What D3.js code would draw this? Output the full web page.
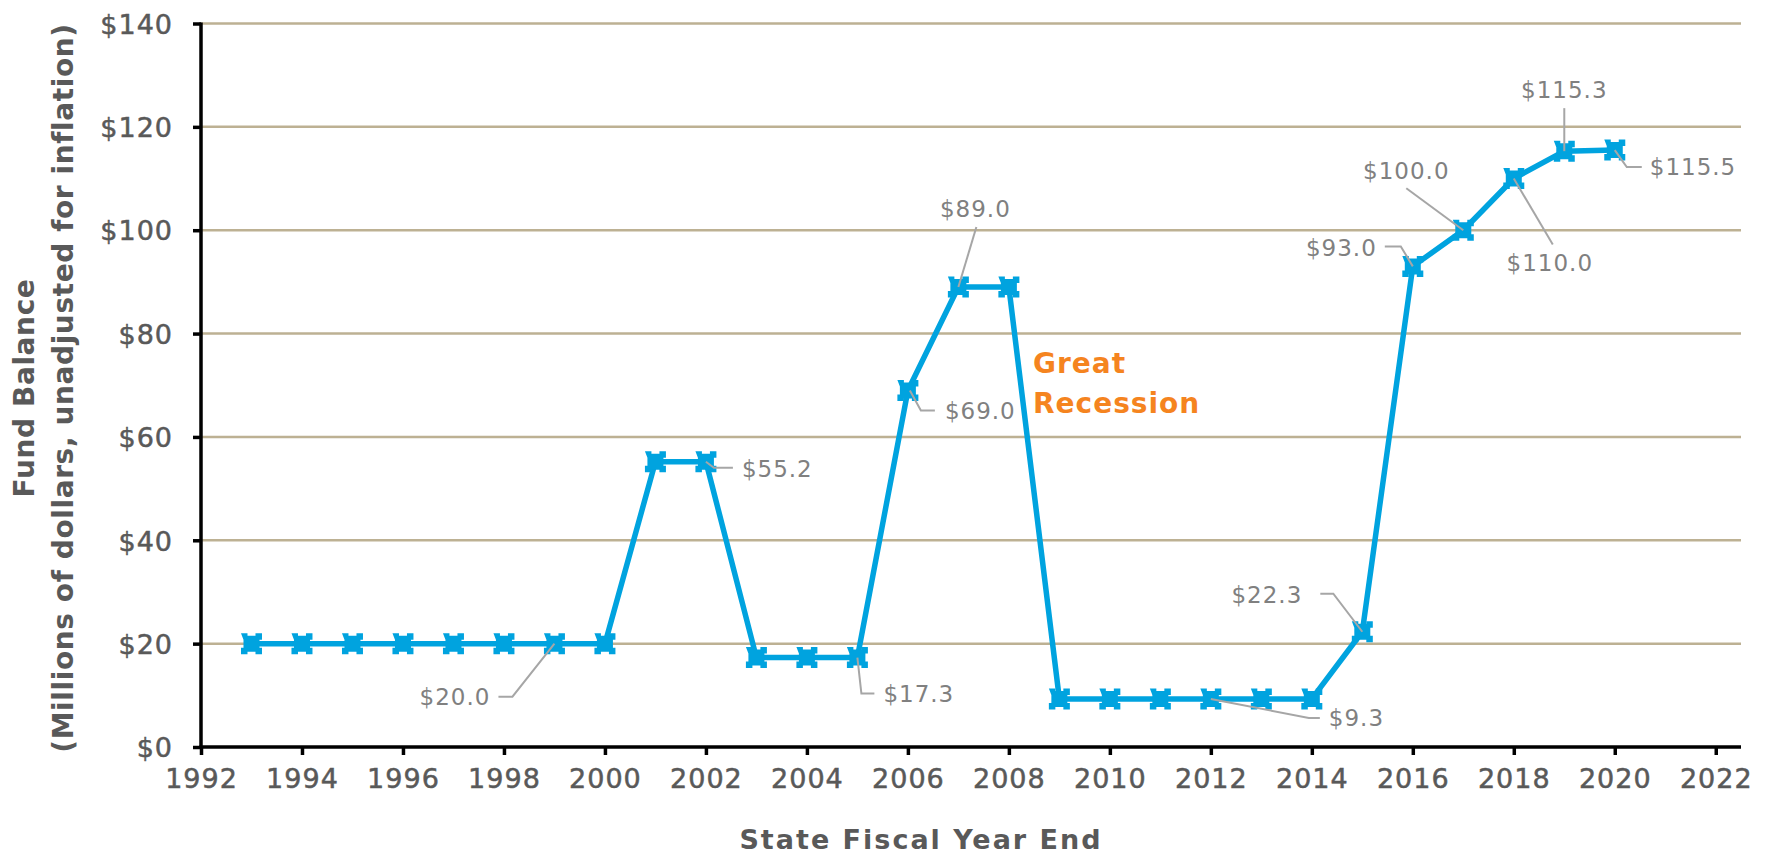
<!DOCTYPE html>
<html>
<head>
<meta charset="utf-8">
<script src="https://cdn.jsdelivr.net/npm/d3@7"></script>
<style>
  html, body { margin: 0; padding: 0; background: #ffffff; }
  svg { display: block; }
  text { font-family: "DejaVu Sans", "Noto Sans", sans-serif; }
</style>
</head>
<body>
<svg id="chart" width="1769" height="858"></svg>
<script>
// Fund balance by state fiscal year end (millions of dollars, nominal)
const years = [1993, 1994, 1995, 1996, 1997, 1998, 1999, 2000, 2001, 2002,
               2003, 2004, 2005, 2006, 2007, 2008, 2009, 2010, 2011, 2012,
               2013, 2014, 2015, 2016, 2017, 2018, 2019, 2020];
const balances = [20.0, 20.0, 20.0, 20.0, 20.0, 20.0, 20.0, 20.0, 55.2, 55.2,
                  17.3, 17.3, 17.3, 69.0, 89.0, 89.0, 9.3, 9.3, 9.3, 9.3,
                  9.3, 9.3, 22.3, 93.0, 100.0, 110.0, 115.3, 115.5];

// Axis ticks
const xTicks = [1992, 1994, 1996, 1998, 2000, 2002, 2004, 2006, 2008, 2010,
                2012, 2014, 2016, 2018, 2020, 2022];
const yTicks = [0, 20, 40, 60, 80, 100, 120, 140];

// Years that carry a value callout
const calloutYears = [1999, 2002, 2005, 2006, 2007, 2012, 2015, 2016, 2017, 2018, 2019, 2020];

// Titles and annotation
const xTitle = "State Fiscal Year End";
const yTitleLines = ["Fund Balance", "(Millions of dollars, unadjusted for inflation)"];
const noteLines = ["Great", "Recession"];

// ---- layout ----
const W = 1769, H = 858;
const plot = { left: 201, right: 1741, top: 23.5, bottom: 747 };

const COLORS = {
  line: "#00A3DF",
  grid: "#BDB193",
  axis: "#000000",
  tick: "#595959",
  callout: "#808080",
  leader: "#A6A6A6",
  note: "#F5841F"
};

const svg = d3.select("#chart");

const x = d3.scaleLinear().domain([1992, 2022.5]).range([plot.left, plot.right]);
const y = d3.scaleLinear().domain([0, 140]).range([plot.bottom, plot.top]);

const data = years.map((yr, i) => ({ year: yr, value: balances[i] }));

// Horizontal gridlines
svg.append("g")
  .selectAll("line")
  .data(yTicks.filter(t => t > 0))
  .join("line")
  .attr("x1", plot.left).attr("x2", plot.right)
  .attr("y1", d => y(d)).attr("y2", d => y(d))
  .attr("stroke", COLORS.grid)
  .attr("stroke-width", 2.5);

// Tick label styling shared by both axes
function styleTickText(sel) {
  sel.attr("fill", COLORS.tick)
    .attr("stroke", COLORS.tick)
    .attr("stroke-width", 0.5)
    .style("font-size", "27px")
    .style("letter-spacing", "1px");
}

// Y axis
const yAxis = svg.append("g")
  .attr("transform", `translate(${plot.left},0)`)
  .call(d3.axisLeft(y).tickValues(yTicks).tickSize(8).tickPadding(20)
    .tickFormat(d => "$" + d));
yAxis.select(".domain").attr("stroke", COLORS.axis).attr("stroke-width", 3.5)
  .attr("d", `M0,${plot.top - 1}V${plot.bottom + 1.5}`);
yAxis.selectAll(".tick line").attr("stroke", COLORS.axis).attr("stroke-width", 3.5);
yAxis.selectAll(".tick text").call(styleTickText).attr("dy", "0.36em");

// X axis
const xAxis = svg.append("g")
  .attr("transform", `translate(0,${plot.bottom})`)
  .call(d3.axisBottom(x).tickValues(xTicks).tickSize(8).tickPadding(14)
    .tickFormat(d3.format("d")));
xAxis.select(".domain").attr("stroke", COLORS.axis).attr("stroke-width", 3.5)
  .attr("d", `M${plot.left - 1.5},0H${plot.right}`);
xAxis.selectAll(".tick line").attr("stroke", COLORS.axis).attr("stroke-width", 3.5);
xAxis.selectAll(".tick text").call(styleTickText);

// Axis titles
svg.append("text")
  .attr("x", 921).attr("y", 849)
  .attr("text-anchor", "middle")
  .attr("fill", COLORS.tick)
  .style("font-size", "27px").style("font-weight", "bold")
  .style("letter-spacing", "2px")
  .text(xTitle);

const yTitle = svg.append("text")
  .attr("transform", `translate(34,388) rotate(-90)`)
  .attr("text-anchor", "middle")
  .attr("fill", COLORS.tick)
  .style("font-size", "28px").style("font-weight", "bold")
  .style("letter-spacing", "0.6px");
yTitle.selectAll("tspan")
  .data(yTitleLines)
  .join("tspan")
  .attr("x", 0)
  .attr("y", (d, i) => i * 39)
  .text(d => d);

// Series line
svg.append("path")
  .datum(data)
  .attr("fill", "none")
  .attr("stroke", COLORS.line)
  .attr("stroke-width", 5.5)
  .attr("stroke-linejoin", "round")
  .attr("d", d3.line().x(d => x(d.year)).y(d => y(d.value)));

// Markers: square with notched edges
function markerPath(s, n, dpt) {
  return `M${-s},${-s}H${-n}V${-s + dpt}H${n}V${-s}H${s}V${-n}H${s - dpt}V${n}H${s}V${s}` +
         `H${n}V${s - dpt}H${-n}V${s}H${-s}V${n}H${-s + dpt}V${-n}Z`;
}
svg.append("g")
  .selectAll("path")
  .data(data)
  .join("path")
  .attr("transform", d => `translate(${x(d.year)},${y(d.value)})`)
  .attr("d", markerPath(10.5, 4, 2.5))
  .attr("fill", COLORS.line);

// Callout placement relative to each marker: leader polyline and label anchor
const calloutLayout = {
  1999: { leader: [[0, 0], [-42, 53], [-56, 53]], label: [-64, 53], anchor: "end" },
  2002: { leader: [[0, 0], [8, 6], [27, 6]], label: [36, 7], anchor: "start" },
  2005: { leader: [[0, 0], [4, 36], [17, 36]], label: [26, 36], anchor: "start" },
  2006: { leader: [[2, 0], [13, 20], [27, 20]], label: [37, 20], anchor: "start" },
  2007: { leader: [[0, 0], [18, -60]], label: [17, -78], anchor: "middle" },
  2012: { leader: [[0, 0], [98, 19], [109, 19]], label: [118, 19], anchor: "start" },
  2015: { leader: [[0, 0], [-29, -38], [-42, -38]], label: [-60, -37], anchor: "end" },
  2016: { leader: [[0, 0], [-12, -20], [-28, -20]], label: [-36, -19], anchor: "end" },
  2017: { leader: [[0, 0], [-57, -42]], label: [-57, -59], anchor: "middle" },
  2018: { leader: [[0, 0], [39, 66]], label: [36, 84], anchor: "middle" },
  2019: { leader: [[0, 0], [0, -43]], label: [0, -61], anchor: "middle" },
  2020: { leader: [[0, 0], [12, 17], [27, 17]], label: [35, 17], anchor: "start" }
};

const callouts = data.filter(d => calloutYears.includes(d.year));

const cg = svg.append("g");
cg.selectAll("path")
  .data(callouts)
  .join("path")
  .attr("fill", "none")
  .attr("stroke", COLORS.leader)
  .attr("stroke-width", 2)
  .attr("d", d => {
    const px = x(d.year), py = y(d.value);
    return d3.line()(calloutLayout[d.year].leader.map(p => [px + p[0], py + p[1]]));
  });

cg.selectAll("text")
  .data(callouts)
  .join("text")
  .attr("x", d => x(d.year) + calloutLayout[d.year].label[0])
  .attr("y", d => y(d.value) + calloutLayout[d.year].label[1])
  .attr("dy", "0.36em")
  .attr("text-anchor", d => calloutLayout[d.year].anchor)
  .attr("fill", COLORS.callout)
  .style("font-size", "23px")
  .style("letter-spacing", "1px")
  .text(d => "$" + d.value.toFixed(1));

// Recession note
const note = svg.append("text")
  .attr("fill", COLORS.note)
  .style("font-size", "28px").style("font-weight", "bold")
  .style("letter-spacing", "1px");
note.selectAll("tspan")
  .data(noteLines)
  .join("tspan")
  .attr("x", 1033)
  .attr("y", (d, i) => 373 + i * 40)
  .text(d => d);
</script>
</body>
</html>
